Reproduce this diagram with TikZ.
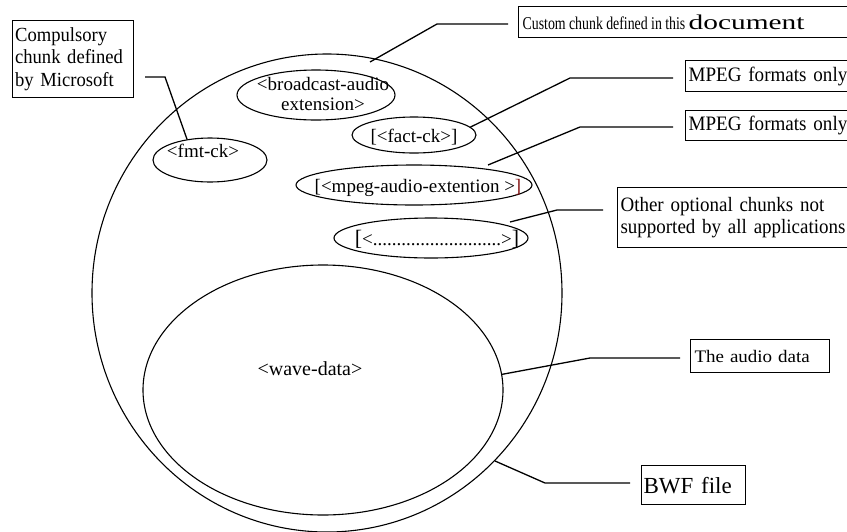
\documentclass[tikz,border=0pt]{standalone}
\usepackage{fontspec}
\setmainfont{Liberation Serif}
\newfontfamily\narrowf[FakeStretch=0.77]{Liberation Serif}
\newfontfamily\widef[FakeStretch=1.4]{Liberation Serif}
\newfontfamily\lblf[FakeStretch=0.93]{Liberation Serif}
\newfontfamily\audf[FakeStretch=1.08]{Liberation Serif}
\usetikzlibrary{shapes.geometric}
\definecolor{bracketred}{RGB}{130,20,20}
\begin{document}
\begin{tikzpicture}[x=1pt,y=-1pt, line width=1.1pt,
  blob/.style={ellipse, draw, inner sep=0pt},
  lbl/.style={draw, rectangle, anchor=north west, align=left, line width=1.2pt},
  txt/.style={inner sep=0pt, font=\fontsize{19}{20}\selectfont},
  conn/.style={line width=1.3pt}]
\useasboundingbox (0,0) rectangle (847,531);
\clip (0,0) rectangle (847,531);
% ellipses
\node[blob, minimum width=470, minimum height=478] (outer) at (327,293) {};
\node[blob, minimum width=360, minimum height=250] (wave) at (323,390) {};
\node[blob, minimum width=158, minimum height=50] (bcast) at (316,95) {};
\node[blob, minimum width=114, minimum height=44] (fmt) at (210,160) {};
\node[blob, minimum width=124, minimum height=36] (fact) at (414,135) {};
\node[blob, minimum width=236, minimum height=40] (mpeg) at (414,185) {};
\node[blob, minimum width=194, minimum height=40] (dots) at (431,238) {};
% ellipse texts
\node[txt, anchor=base] (tfmt) at (203,157) {<fmt-ck>};
\node[txt, align=center] (tbcast) at (323,94) {<broadcast-audio\\extension>};
\node[txt, anchor=base] (tfact) at (414,142) {[<fact-ck>]};
\node[txt, anchor=base] (tmpeg) at (418,192) {[<mpeg-audio-extention >\textcolor{bracketred}{]}};
\node[txt, anchor=base] (tdots) at (437,245) {{\fontsize{22}{22}\selectfont[}<...........................>{\fontsize{22}{22}\selectfont]}};
\node[txt, anchor=base, font=\fontsize{20}{20}\selectfont] (twave) at (310,375) {<wave-data>};
% label boxes
\node[lbl, inner xsep=2.5pt, inner ysep=0pt, minimum height=77, text width=116, font=\lblf\fontsize{20}{22.5}\selectfont] (comp) at (12,20) {Compulsory\\chunk defined\\by Microsoft};
\node[lbl, inner xsep=4pt, inner ysep=0pt, minimum height=31, text width=330] (cust) at (518,6) {\narrowf\fontsize{18}{20}\selectfont Custom chunk defined in this \widef\fontsize{21}{20}\selectfont document};
\node[lbl, inner xsep=3pt, inner ysep=0pt, minimum height=31, text width=170, font=\lblf\fontsize{20.5}{22}\selectfont] (mp1) at (685,60) {MPEG formats only};
\node[lbl, inner xsep=3pt, inner ysep=0pt, minimum height=30, text width=170, font=\lblf\fontsize{20.5}{22}\selectfont] (mp2) at (685,110) {MPEG formats only};
\node[lbl, inner xsep=3pt, inner ysep=0pt, minimum height=60, text width=235, font=\lblf\fontsize{20.4}{22}\selectfont] (oth) at (617,187) {Other optional chunks not\\supported by all applications};
\node[lbl, inner xsep=4pt, inner ysep=0pt, minimum height=33, text width=131, font=\audf\fontsize{17.6}{20}\selectfont] (aud) at (690,339) {The audio data};
\node[lbl, inner xsep=2pt, inner ysep=0pt, minimum height=39, text width=100, font=\fontsize{23}{24}\selectfont] (bwf) at (641,465) {BWF file};
% connector points
\coordinate (k1a) at (145,77);  \coordinate (k1b) at (165,77);
\coordinate (k2a) at (508,24);  \coordinate (k2b) at (437,24);  \coordinate (k2c) at (370,62);
\coordinate (k3a) at (673,78);  \coordinate (k3b) at (570,78);
\coordinate (k4a) at (673,127); \coordinate (k4b) at (580,127); \coordinate (k4c) at (488,165);
\coordinate (k5a) at (603,210); \coordinate (k5b) at (557,210); \coordinate (k5c) at (510,222);
\coordinate (k6a) at (680,358); \coordinate (k6b) at (590,358);
\coordinate (k7a) at (630,483); \coordinate (k7b) at (545,483);
% connectors
\draw[conn] (k1a) -- (k1b) -- (fmt.138);
\draw[conn] (k2a) -- (k2b) -- (k2c);
\draw[conn] (k3a) -- (k3b) -- (fact.8);
\draw[conn] (k4a) -- (k4b) -- (k4c);
\draw[conn] (k5a) -- (k5b) -- (k5c);
\draw[conn] (k6a) -- (k6b) -- (wave.5);
\draw[conn] (k7a) -- (k7b) -- (outer.-45);
\end{tikzpicture}
\end{document}
